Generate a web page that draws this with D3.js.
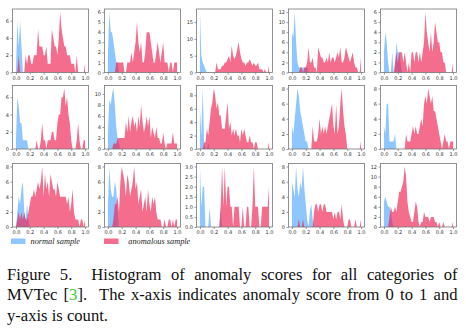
<!DOCTYPE html>
<html><head><meta charset="utf-8">
<script src="https://cdn.jsdelivr.net/npm/d3@7"></script>
<style>body{margin:0;background:#fff}svg{display:block}</style>
</head><body><svg id="c" width="466" height="328"></svg>
<script>
// bin positions (anomaly score), 0.02 step
const bins = d3.range(51).map(i => +(i * 0.02).toFixed(2));
const xTicks = [0, 0.2, 0.4, 0.6, 0.8, 1.0];

const normal01 = [0,6,3,6,3,0,0,0,0,0, 0,0,0,0,0,0,0,0,0,0, 0,0,0,0,0,0,0,0,0,0, 0,0,0,0,0,0,0,0,0,0, 0,0,0,0,0,0,0,0,0,0, 0];
const anomal01 = [0,0,2,0,0,0,0,2,1,2, 2,1,1,2,2,2,5,3,3,3, 2,2,3,1,1,1,5,4,3,3, 2,4,7,5,4,3,3,2,2,2, 1,1,1,0,2,0,0,0,0,0, 1];
const yTicks01 = [0,2,4,6];

const normal02 = [2,6,4,4,3,2,1,1,0,0, 0,0,0,0,0,0,0,0,0,0, 0,0,0,0,0,0,0,0,0,0, 0,0,0,0,0,0,0,0,0,0, 0,0,0,0,0,0,0,0,0,0, 0];
const anomal02 = [0,0,0,0,0,0,1,1,1,1, 1,1,0,0,1,1,1,2,1,2, 3,5,3,2,3,1,1,2,4,4, 4,3,2,1,1,2,3,2,1,2, 3,1,1,1,0,1,1,0,1,1, 1];
const yTicks02 = [0,1,2,3,4,5,6];

const normal03 = [18,5,3,2,1,0,0,0,0,0, 0,0,0,0,0,0,0,0,0,0, 0,0,0,0,0,0,0,0,0,0, 0,0,0,0,0,0,0,0,0,0, 0,0,0,0,0,0,0,0,0,0, 0];
const anomal03 = [0,0,0,0,0,0,0,0,0,0, 0,0,3,1,1,1,2,2,3,3, 4,5,3,8,5,4,5,7,9,6, 4,3,3,2,3,3,4,3,2,3, 2,2,3,1,1,1,0,1,0,0, 2];
const yTicks03 = [0,5,10,15];

const normal04 = [8,7,12,6,2,1,1,1,1,1, 1,1,0,0,0,0,0,0,0,0, 0,0,0,0,0,0,0,0,0,0, 0,0,0,0,0,0,0,0,0,0, 0,0,0,0,0,0,0,0,0,0, 0];
const anomal04 = [0,0,0,0,0,0,1,1,0,1, 1,2,5,2,2,3,1,1,0,5, 4,3,3,2,2,3,2,4,2,3, 3,2,3,4,3,5,2,2,3,5, 4,3,2,3,4,2,1,1,0,0, 3];
const yTicks04 = [0,2,4,6,8,10,12];

const normal05 = [2,4,3,1,0,0,2,0,0,3, 2,2,1,0,0,0,0,0,0,0, 0,0,0,0,0,0,0,0,0,0, 0,0,0,0,0,0,0,0,0,0, 0,0,0,0,0,0,0,0,0,0, 0];
const anomal05 = [0,0,0,0,0,0,0,0,1,2, 1,2,2,2,1,2,1,0,1,0, 2,2,1,2,2,1,2,1,2,3, 6,4,3,2,4,2,3,5,4,3, 3,2,2,1,1,0,0,0,0,0, 1];
const yTicks05 = [0,1,2,3,4,5,6];

const normal06 = [1,6,5,3,3,1,1,1,1,0, 0,0,0,0,0,0,0,0,0,0, 0,0,0,0,0,0,0,0,0,0, 0,0,0,0,0,0,0,0,0,0, 0,0,0,0,0,0,0,0,0,0, 0];
const anomal06 = [0,0,0,0,0,0,0,0,0,0, 0,0,0,0,0,1,0,0,1,3, 1,1,0,1,1,1,2,2,1,1, 3,4,4,6,6,7,5,6,4,3, 1,0,0,0,1,3,1,0,0,1, 1];
const yTicks06 = [0,2,4,6];

const normal07 = [3,9,8,10,11,8,4,2,1,0, 0,0,0,0,0,0,0,0,0,0, 0,0,0,0,0,0,0,0,0,0, 0,0,0,0,0,0,0,0,0,0, 0,0,0,0,0,0,0,0,0,0, 0];
const anomal07 = [0,0,0,0,1,1,1,2,2,2, 2,2,2,5,3,6,3,5,6,4, 5,3,6,4,8,5,3,4,6,4, 6,2,4,3,2,4,2,2,1,1, 3,1,0,1,1,1,1,3,1,1, 1];
const yTicks07 = [0,2,4,6,8,10];

const normal08 = [6,2,9,1,0,0,1,0,0,0, 0,0,0,0,0,0,0,0,0,0, 0,0,0,0,0,0,0,0,0,0, 0,0,0,0,0,0,0,0,0,0, 0,0,0,0,0,0,0,0,0,0, 0];
const anomal08 = [0,0,0,1,1,3,2,4,6,7, 9,8,6,7,5,5,3,3,3,5, 7,3,4,2,3,2,3,2,2,1, 3,2,3,2,1,1,2,1,1,0, 1,1,0,0,0,0,0,0,0,0, 1];
const yTicks08 = [0,2,4,6,8];

const normal09 = [3,2,4,6,8,7,5,4,3,2, 1,1,0,0,0,0,0,0,0,0, 0,0,0,0,0,0,0,0,0,0, 0,0,0,0,0,0,0,0,0,0, 0,0,0,0,0,0,0,0,0,0, 0];
const anomal09 = [0,0,0,0,0,0,0,0,0,0, 0,0,0,0,0,3,1,1,1,2, 4,2,3,2,3,2,3,4,5,6, 3,2,6,2,3,6,8,5,3,2, 0,0,0,0,0,0,0,0,0,0, 1];
const yTicks09 = [0,2,4,6,8];

const normal10 = [3,2,6,6,1,1,1,1,2,0, 0,0,0,0,0,0,0,0,0,0, 0,0,0,0,0,0,0,0,0,0, 0,0,0,0,0,0,0,0,0,0, 0,0,0,0,0,0,0,0,0,0, 0];
const anomal10 = [0,0,0,0,0,0,0,0,0,0, 0,0,0,0,0,0,2,1,1,1, 2,3,2,3,2,2,3,4,3,6, 7,6,8,7,6,7,5,5,4,3, 2,1,0,1,2,1,1,0,1,1, 1];
const yTicks10 = [0,2,4,6,8];

const normal11 = [0,2,4,3,5,6,2,1,3,1, 0,0,0,0,0,0,0,0,0,0, 0,0,0,0,0,0,0,0,0,0, 0,0,0,0,0,0,0,0,0,0, 0,0,0,0,0,0,0,0,0,0, 0];
const anomal11 = [0,1,2,1,2,1,2,1,1,2, 3,4,4,5,4,5,6,5,6,8, 4,7,5,6,4,7,6,5,5,4, 6,5,4,4,4,4,4,3,4,2, 3,5,2,1,1,1,0,1,1,0, 1];
const yTicks11 = [0,2,4,6,8];

const normal12 = [3,8,5,4,4,6,5,2,0,0, 0,0,0,0,0,0,0,0,0,0, 0,0,0,0,0,0,0,0,0,0, 0,0,0,0,0,0,0,0,0,0, 0,0,0,0,0,0,0,0,0,0, 0];
const anomal12 = [0,0,0,0,1,3,3,4,2,6, 8,7,6,4,7,6,4,5,6,8, 5,6,3,4,5,2,3,4,2,5, 3,2,4,3,4,2,1,1,1,0, 0,1,0,0,1,1,0,1,0,1, 1];
const yTicks12 = [0,2,4,6,8];

const normal13 = [3,1,2,2,0,0,0,1,0,0, 0,0,0,0,0,1,0,0,0,0, 0,0,0,0,0,0,0,0,0,0, 0,0,0,0,0,0,0,0,0,0, 0,0,0,0,0,0,0,0,0,0, 0];
const anomal13 = [0,0,0,0,0,0,0,0,0,0, 0,0,0,0,0,1,3,1,3,1, 2,2,1,1,0,1,1,1,1,0, 0,1,0,0,1,1,0,0,1,3, 1,1,1,0,0,1,1,1,1,1, 2];
const yTicks13 = [0,0.5,1,1.5,2,2.5,3];

const normal14 = [6,5,4,8,5,4,6,5,8,5, 3,1,0,2,3,1,0,0,0,0, 0,0,0,0,0,0,0,0,0,0, 0,0,0,0,0,0,0,0,0,0, 0,0,0,0,0,0,0,0,0,0, 0];
const anomal14 = [0,0,0,0,0,1,0,0,1,0, 0,0,0,0,0,0,2,3,3,2, 3,3,2,3,3,2,2,2,2,2, 1,2,1,2,2,1,3,1,0,0, 0,1,1,0,0,0,1,0,0,0, 1];
const yTicks14 = [0,2,4,6,8];

const normal15 = [5,6,5,4,4,3,1,0,0,0, 0,0,0,0,0,0,0,0,0,0, 0,0,0,0,0,0,0,0,0,0, 0,0,0,0,0,0,0,0,0,0, 0,0,0,0,0,0,0,0,0,0, 0];
const anomal15 = [0,0,0,0,2,4,3,3,4,3, 5,7,7,8,9,12,10,5,3,2, 1,1,3,5,4,1,0,1,1,3, 2,2,2,1,2,2,2,1,1,0, 1,0,0,1,0,0,0,0,0,0, 1];
const yTicks15 = [0,2,4,6,8,10,12];

const legendLabels = ["normal sample", "anomalous sample"];
const captionLines = [
  "Figure 5.  Histogram of anomaly scores for all categories of",
  ["MVTec [", "3", "].  The x-axis indicates anomaly score from 0 to 1 and"],
  "y-axis is count."
];

const panels = [
  [normal01, anomal01, yTicks01], [normal02, anomal02, yTicks02], [normal03, anomal03, yTicks03],
  [normal04, anomal04, yTicks04], [normal05, anomal05, yTicks05], [normal06, anomal06, yTicks06],
  [normal07, anomal07, yTicks07], [normal08, anomal08, yTicks08], [normal09, anomal09, yTicks09],
  [normal10, anomal10, yTicks10], [normal11, anomal11, yTicks11], [normal12, anomal12, yTicks12],
  [normal13, anomal13, yTicks13], [normal14, anomal14, yTicks14], [normal15, anomal15, yTicks15]
];

const BLUE = "rgb(30,144,255)", BLUE_OP = 0.5;
const RED = "rgb(240,30,80)", RED_OP = 0.65;

const svg = d3.select("#c");
const colLeft = [12.5, 104.5, 196.5, 288.5, 380.5];
const rowTop = [9, 85.5, 163.5];
const W = 76, H = 63.5;

panels.forEach(([nrm, ano, yt], k) => {
  const c = k % 5, r = Math.floor(k / 5);
  const g = svg.append("g").attr("transform", `translate(${colLeft[c]},${rowTop[r]})`);
  const x = d3.scaleLinear().domain([-0.05, 1.05]).range([0, W]);
  const ymax = d3.max(nrm.concat(ano)) * 1.05;
  const y = d3.scaleLinear().domain([0, ymax]).range([H, 0]);
  const area = d3.area().x((d, i) => x(bins[i])).y0(y(0)).y1(d => y(d));
  g.append("path").datum(nrm).attr("d", area).attr("fill", BLUE).attr("fill-opacity", BLUE_OP);
  g.append("path").datum(ano).attr("d", area).attr("fill", RED).attr("fill-opacity", RED_OP);

  const fmt = yt.some(v => v % 1 !== 0) ? d3.format(".1f") : d3.format("d");
  const ax = g.append("g").attr("transform", `translate(0,${H})`)
    .call(d3.axisBottom(x).tickValues(xTicks).tickSize(2).tickPadding(1.5).tickFormat(d3.format(".1f")));
  const ay = g.append("g")
    .call(d3.axisLeft(y).tickValues(yt).tickSize(2).tickPadding(1.5).tickFormat(fmt));
  [ax, ay].forEach(a => {
    a.select(".domain").remove();
    a.selectAll("line").attr("stroke", "#555").attr("stroke-width", 0.6);
    a.selectAll("text").attr("font-family", "DejaVu Sans, sans-serif").attr("font-size", 5).attr("fill", "#333");
  });
  g.append("rect").attr("width", W).attr("height", H).attr("fill", "none")
    .attr("stroke", "#777").attr("stroke-width", 0.8);
});

// legend
const lg = svg.append("g");
lg.append("rect").attr("x", 11).attr("y", 238.5).attr("width", 14.5).attr("height", 5.5).attr("fill", BLUE).attr("fill-opacity", BLUE_OP);
lg.append("text").attr("x", 30.5).attr("y", 244).text(legendLabels[0]);
lg.append("rect").attr("x", 104).attr("y", 238.5).attr("width", 14.5).attr("height", 5.5).attr("fill", RED).attr("fill-opacity", RED_OP);
lg.append("text").attr("x", 128.3).attr("y", 244).text(legendLabels[1]);
lg.selectAll("text").attr("font-family", "Liberation Serif, serif").attr("font-style", "italic").attr("font-size", 8.3).attr("fill", "#222");

// caption
const capX = 7, capR = 457.5;
const baselines = [279.5, 300, 320.5];
const cap = svg.append("g").attr("font-family", "Liberation Serif, Times New Roman, serif").attr("font-size", 16.6).attr("fill", "#111");
captionLines.forEach((ln, i) => {
  const t = cap.append("text").attr("x", capX).attr("y", baselines[i]).style("white-space", "pre");
  if (Array.isArray(ln)) {
    ln.forEach((s, j) => t.append("tspan").attr("fill", j === 1 ? "#33cc33" : null).text(s));
  } else t.text(ln);
  if (i < 2) {
    const full = Array.isArray(ln) ? ln.join("") : ln;
    const spaces = (full.match(/ /g) || []).length;
    const w = t.node().getComputedTextLength();
    t.attr("word-spacing", (capR - capX - w) / spaces);
  }
});
</script></body></html>
